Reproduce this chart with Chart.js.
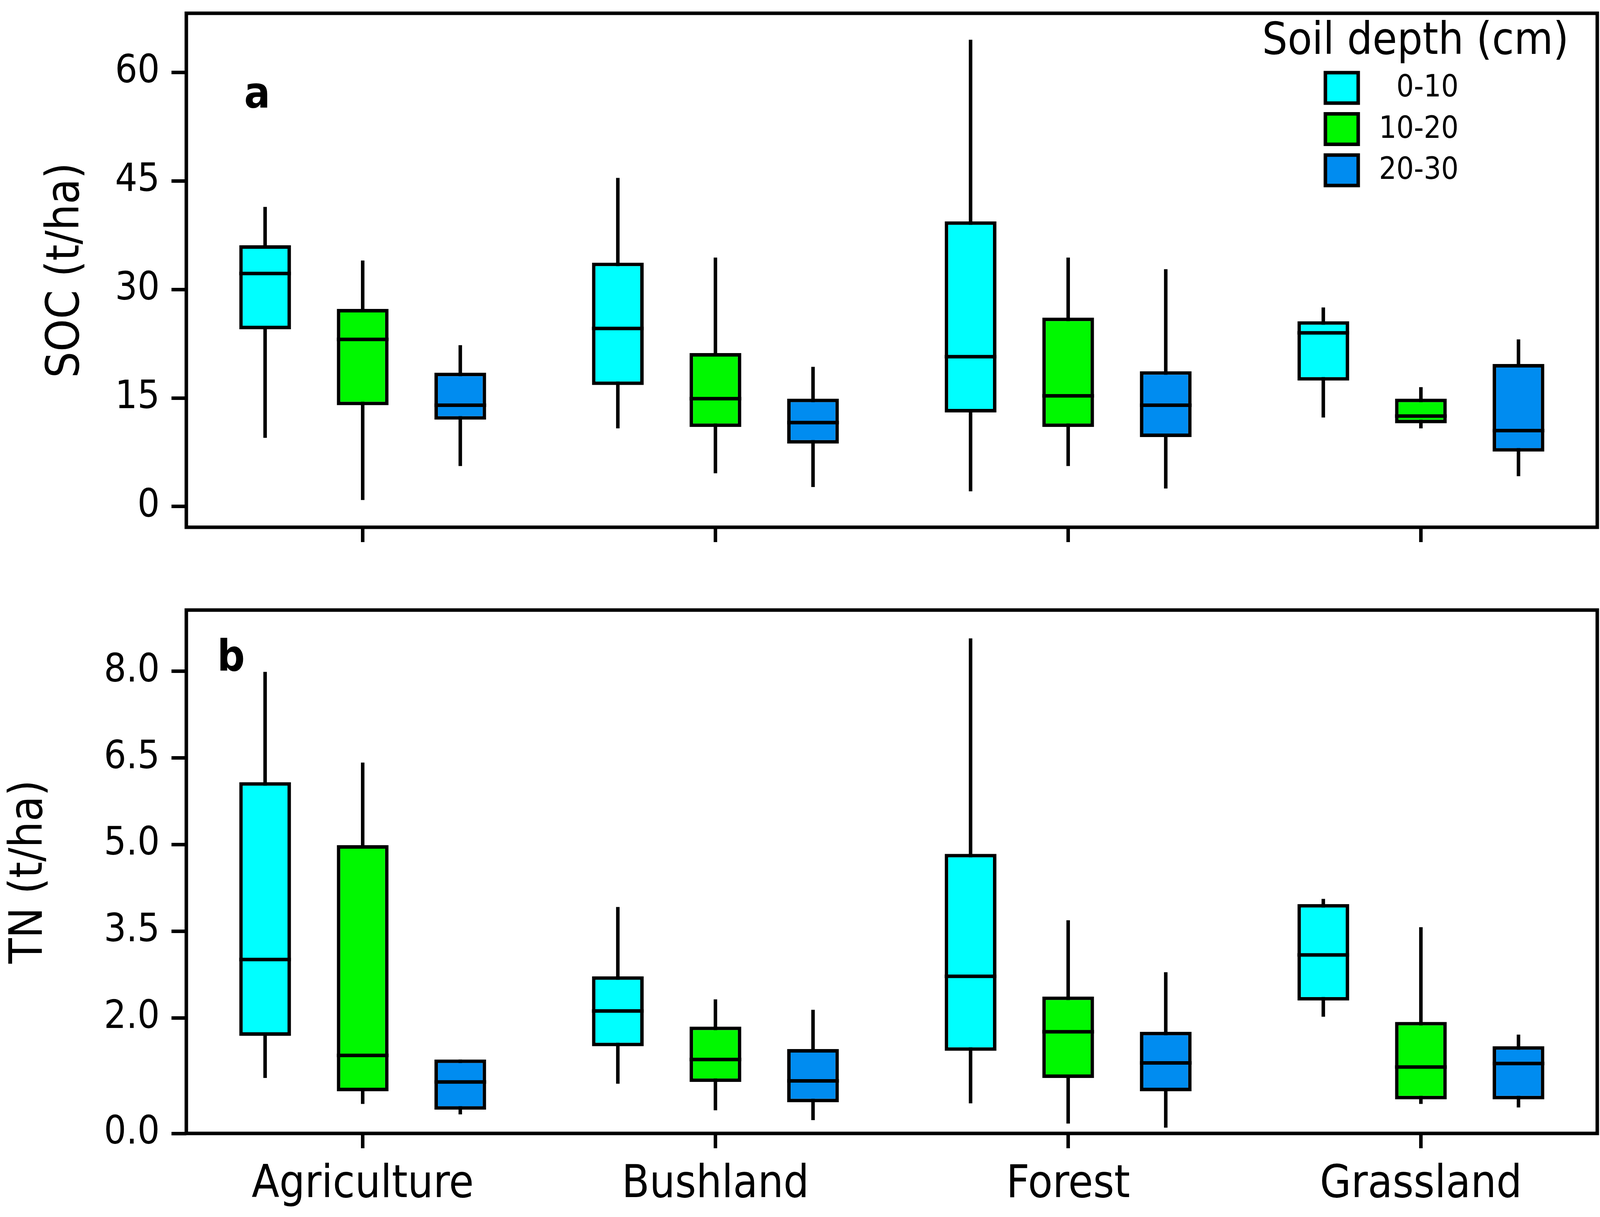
<!DOCTYPE html>
<html>
<head>
<meta charset="utf-8">
<script src="https://cdn.jsdelivr.net/npm/chart.js@4.4.1/dist/chart.umd.min.js"></script>
<style>
  html, body { margin: 0; padding: 0; background: #fff; }
  #wrap { position: relative; width: 4128px; height: 3116px; background: #fff; }
  canvas { position: absolute; left: 0; }
</style>
</head>
<body>
<div id="wrap">
  <canvas id="soc_chart" width="4128" height="1456" style="top:0px"></canvas>
  <canvas id="tn_chart" width="4128" height="1660" style="top:1456px"></canvas>
</div>
<script>
const landUses = ['Agriculture', 'Bushland', 'Forest', 'Grassland'];
const depthLabels = ['0-10', '10-20', '20-30'];
const depthColors = ['#00ffff', '#00f800', '#008cf0'];

// [min, q1, median, q3, max] for each land use
const soc0to10 = [[9.5, 24.5, 32.2, 36.1, 41.4], [10.8, 16.8, 24.6, 33.7, 45.4], [2.1, 13.0, 20.7, 39.4, 64.5], [12.3, 17.4, 24.0, 25.6, 27.5]];
const soc10to20 = [[0.9, 14.0, 23.1, 27.3, 34.0], [4.6, 11.0, 14.9, 21.2, 34.4], [5.6, 11.0, 15.3, 26.1, 34.4], [10.8, 11.5, 12.5, 14.9, 16.5]];
const soc20to30 = [[5.6, 12.0, 14.0, 18.5, 22.3], [2.7, 8.7, 11.6, 14.9, 19.3], [2.5, 9.6, 14.0, 18.7, 32.8], [4.2, 7.6, 10.5, 19.7, 23.1]];

const tn0to10 = [[0.96, 1.69, 3.01, 6.08, 7.99], [0.86, 1.51, 2.12, 2.72, 3.92], [0.52, 1.43, 2.72, 4.84, 8.57], [2.02, 2.30, 3.09, 3.97, 4.06]];
const tn10to20 = [[0.51, 0.73, 1.35, 4.99, 6.42], [0.40, 0.89, 1.28, 1.85, 2.32], [0.17, 0.96, 1.76, 2.37, 3.69], [0.51, 0.59, 1.15, 1.93, 3.57]];
const tn20to30 = [[0.33, 0.41, 0.89, 1.28, 1.28], [0.23, 0.54, 0.91, 1.46, 2.14], [0.10, 0.73, 1.22, 1.76, 2.79], [0.45, 0.59, 1.21, 1.51, 1.71]];

const socTicks = [0, 15, 30, 45, 60];
const tnTicks = [0, 2, 3.5, 5, 6.5, 8];

const FONT = '"DejaVu Sans Condensed", "DejaVu Sans", sans-serif';
const LINE = 9;

// boxes are floating bars from q1 to q3, whiskers + medians drawn by the plugin
const makeDatasets = (groups) => groups.map((rows, d) => ({
  label: depthLabels[d],
  data: rows.map(r => [r[1], r[3]]),
  low: rows.map(r => r[0]),
  median: rows.map(r => r[2]),
  high: rows.map(r => r[4]),
  backgroundColor: depthColors[d],
  borderColor: 'black',
  borderWidth: LINE,
  borderSkipped: false,
  barPercentage: 0.53,
  categoryPercentage: 0.83
}));

const noPadding = (scale) => {
  scale.paddingTop = 0;
  scale.paddingBottom = 0;
  scale.paddingLeft = 0;
  scale.paddingRight = 0;
};

const boxWhisker = {
  id: 'boxWhisker',
  beforeDatasetsDraw(chart) {
    const { ctx, scales: { y } } = chart;
    ctx.save();
    ctx.strokeStyle = 'black';
    ctx.lineWidth = LINE;
    chart.data.datasets.forEach((ds, d) => {
      chart.getDatasetMeta(d).data.forEach((bar, i) => {
        const { x } = bar.getProps(['x'], true);
        ctx.beginPath();
        ctx.moveTo(x, y.getPixelForValue(ds.low[i]));
        ctx.lineTo(x, y.getPixelForValue(ds.high[i]));
        ctx.stroke();
      });
    });
    ctx.restore();
  },
  afterDatasetsDraw(chart) {
    const { ctx, scales: { y } } = chart;
    ctx.save();
    ctx.strokeStyle = 'black';
    ctx.lineWidth = LINE;
    chart.data.datasets.forEach((ds, d) => {
      chart.getDatasetMeta(d).data.forEach((bar, i) => {
        const { x, width } = bar.getProps(['x', 'width'], true);
        const yy = y.getPixelForValue(ds.median[i]);
        ctx.beginPath();
        ctx.moveTo(x - width / 2, yy);
        ctx.lineTo(x + width / 2, yy);
        ctx.stroke();
      });
    });
    ctx.restore();
  },
  afterDraw(chart) {
    const { ctx, chartArea: a } = chart;
    ctx.save();
    ctx.strokeStyle = 'black';
    ctx.lineWidth = LINE;
    ctx.strokeRect(a.left, a.top, a.right - a.left, a.bottom - a.top);
    const lbl = chart.options.plugins.panelLabel;
    ctx.fillStyle = 'black';
    ctx.font = 'bold 110px ' + FONT;
    ctx.textAlign = 'left';
    ctx.textBaseline = 'alphabetic';
    ctx.fillText(lbl.text, a.left + lbl.dx, a.top + lbl.dy);
    ctx.restore();
  }
};

const depthLegend = {
  id: 'depthLegend',
  afterDraw(chart) {
    const ctx = chart.ctx;
    ctx.save();
    ctx.fillStyle = 'black';
    ctx.font = '114px ' + FONT;
    ctx.textAlign = 'left';
    ctx.textBaseline = 'alphabetic';
    ctx.fillText('Soil depth (cm)', 3231, 138);
    chart.data.datasets.forEach((ds, d) => {
      const top = 186 + d * 105.5;
      ctx.fillStyle = ds.backgroundColor;
      ctx.fillRect(3393, top, 84, 78);
      ctx.lineWidth = LINE;
      ctx.strokeStyle = 'black';
      ctx.strokeRect(3393, top, 84, 78);
      ctx.fillStyle = 'black';
      ctx.font = '78px ' + FONT;
      ctx.textAlign = 'right';
      ctx.textBaseline = 'middle';
      ctx.fillText(ds.label, 3734, top + 41);
    });
    ctx.restore();
  }
};

const buildOptions = (cfg) => ({
  responsive: false,
  animation: false,
  devicePixelRatio: 1,
  layout: { padding: { top: cfg.padTop, right: 39, left: 0, bottom: 0 } },
  plugins: {
    legend: { display: false },
    tooltip: { enabled: false },
    panelLabel: cfg.panelLabel
  },
  scales: {
    x: {
      grid: { offset: false, drawOnChartArea: false, drawTicks: true, tickLength: 38, lineWidth: LINE, color: 'black' },
      border: { display: false },
      ticks: { display: cfg.showX, color: 'black', font: { family: FONT, size: 115 }, padding: 26, maxRotation: 0, autoSkip: false },
      afterFit: (scale) => { scale.height = cfg.xHeight; noPadding(scale); }
    },
    y: {
      min: cfg.yMin,
      max: cfg.yMax,
      grid: { drawOnChartArea: false, drawTicks: true, tickLength: 38, lineWidth: LINE, color: 'black' },
      border: { display: false },
      afterBuildTicks: (scale) => { scale.ticks = cfg.tickValues.map(v => ({ value: v })); },
      ticks: { color: 'black', font: { family: FONT, size: 100 }, padding: 30, callback: cfg.tickFormat },
      title: { display: true, text: cfg.title, color: 'black', font: { family: FONT, size: 118 }, padding: { top: cfg.titlePad, bottom: 0 } },
      afterFit: (scale) => { scale.width = 477; noPadding(scale); }
    }
  }
});

new Chart(document.getElementById('soc_chart'), {
  type: 'bar',
  data: { labels: landUses, datasets: makeDatasets([soc0to10, soc10to20, soc20to30]) },
  options: buildOptions({
    padTop: 34, xHeight: 106, showX: false,
    yMin: -2.86, yMax: 68.15, tickValues: socTicks,
    tickFormat: (v) => String(v),
    title: 'SOC (t/ha)', titlePad: 100,
    panelLabel: { text: 'a', dx: 148, dy: 241 }
  }),
  plugins: [boxWhisker, depthLegend]
});

new Chart(document.getElementById('tn_chart'), {
  type: 'bar',
  data: { labels: landUses, datasets: makeDatasets([tn0to10, tn10to20, tn20to30]) },
  options: buildOptions({
    padTop: 106, xHeight: 214, showX: true,
    yMin: 0, yMax: 9.06, tickValues: tnTicks,
    tickFormat: (v) => Number(v).toFixed(1),
    title: 'TN (t/ha)', titlePad: 6,
    panelLabel: { text: 'b', dx: 79, dy: 155 }
  }),
  plugins: [boxWhisker]
});
</script>
</body>
</html>
